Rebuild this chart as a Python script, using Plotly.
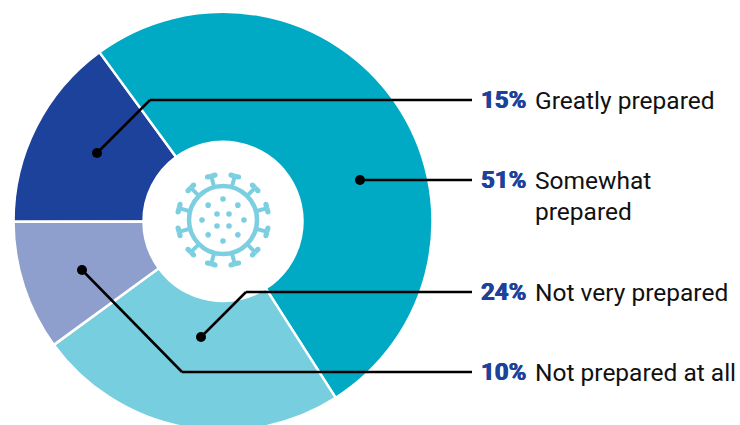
import math
import plotly.graph_objects as go

# Survey responses
categories = ["Greatly prepared", "Somewhat prepared", "Not very prepared", "Not prepared at all"]
shares = [15, 51, 24, 10]
slice_colors = ["#1C429B", "#00AAC4", "#76CEDF", "#8F9FCD"]
pct_labels = ["15%", "51%", "24%", "10%"]
label_lines = [["Greatly prepared"], ["Somewhat", "prepared"], ["Not very prepared"], ["Not prepared at all"]]

W, H = 740, 432
CX, CY, R = 223, 221.3, 209.5
ICON = "#7CCFE0"
BLUE = "#1C429B"


def px(x):
    return x / W


def py(y):
    return 1 - y / H


shapes = []


def circle(x, y, r, fill=None, line=None, lw=0):
    shapes.append(dict(type="circle", xref="paper", yref="paper",
                       x0=px(x - r), x1=px(x + r), y0=py(y + r), y1=py(y - r),
                       fillcolor=fill or "rgba(0,0,0,0)",
                       line=dict(color=line or "rgba(0,0,0,0)", width=lw)))


def seg(x0, y0, x1, y1, color, lw):
    shapes.append(dict(type="line", xref="paper", yref="paper",
                       x0=px(x0), y0=py(y0), x1=px(x1), y1=py(y1),
                       line=dict(color=color, width=lw)))


# Virus emblem in the centre of the ring
ix, iy = 223, 220
circle(ix, iy, 34, line=ICON, lw=4.5)
for k in range(12):
    a = math.radians(15 + 30 * k)
    ux, uy = math.sin(a), -math.cos(a)
    seg(ix + 34 * ux, iy + 34 * uy, ix + 45 * ux, iy + 45 * uy, ICON, 4)
    for s in (-1, 1):
        seg(ix + 45.5 * ux, iy + 45.5 * uy,
            ix + 45.5 * ux - s * 4 * uy, iy + 45.5 * uy + s * 4 * ux, ICON, 5)
        circle(ix + 45.5 * ux - s * 4 * uy, iy + 45.5 * uy + s * 4 * ux, 2.5, fill=ICON)
for k in range(8):
    a = math.radians(45 * k)
    circle(ix + 21 * math.sin(a), iy - 21 * math.cos(a), 2.8, fill=ICON)
for dx in (-6, 6):
    for dy in (-6, 6):
        circle(ix + dx, iy + dy, 2.8, fill=ICON)

# Leader lines from each slice to its label
leaders = [
    [(97, 153), (150, 100), (472, 100)],
    [(360, 180), (472, 180)],
    [(201, 337), (246, 292), (472, 292)],
    [(82, 270), (182, 372), (472, 372)],
]
for pts in leaders:
    for (a, b) in zip(pts[:-1], pts[1:]):
        seg(a[0], a[1], b[0], b[1], "#000000", 2.5)
    circle(pts[0][0], pts[0][1], 5, fill="#000000")

annotations = []
label_y = [100, 180, 292, 372]
for pct, lines, y in zip(pct_labels, label_lines, label_y):
    annotations.append(dict(text=f"<b>{pct}</b>", x=px(478.5), y=py(y), xref="paper", yref="paper",
                            xanchor="left", yanchor="middle", showarrow=False,
                            font=dict(family="Roboto", size=24, color=BLUE, weight=900,
                                      shadow="0.5px 0 0 #1C429B, -0.4px 0 0 #1C429B")))
    for i, line in enumerate(lines):
        annotations.append(dict(text=line, x=px(532.5), y=py(y + 32 * i), xref="paper", yref="paper",
                                xanchor="left", yanchor="middle", showarrow=False,
                                font=dict(family="Roboto", size=24.5, color="#111111")))

fig = go.Figure(go.Pie(
    labels=categories, values=shares, sort=False, direction="clockwise", rotation=269.85,
    hole=79.5 / R, textinfo="none", showlegend=False, hoverinfo="label+percent",
    marker=dict(colors=slice_colors, line=dict(color="#FFFFFF", width=2.5)),
    domain=dict(x=[px(CX - R), px(CX + R)], y=[py(CY + R), py(CY - R)]),
))
fig.update_layout(width=W, height=H, margin=dict(l=0, r=0, t=0, b=0),
                  paper_bgcolor="#FFFFFF", shapes=shapes, annotations=annotations)
fig.write_html("out.html", config={"displayModeBar": False},
               post_script="document.documentElement.style.overflow='hidden';document.body.style.overflow='hidden';")
